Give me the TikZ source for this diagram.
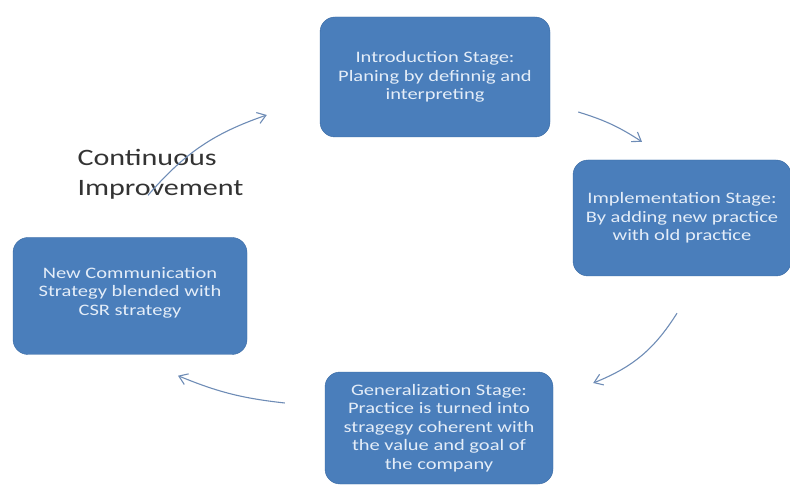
\documentclass[tikz,border=0pt]{standalone}
\usepackage{fontspec}
\setmainfont{Carlito}
\newfontfamily\stagefont[FakeStretch=1.28]{Carlito}
\usetikzlibrary{arrows.meta, positioning}

\definecolor{stageblue}{HTML}{4A7EBB}
\definecolor{stageedge}{HTML}{3A6AA3}
\definecolor{stagetext}{HTML}{E4EDF8}
\definecolor{loopline}{RGB}{110,140,182}

\begin{document}
\begin{tikzpicture}[
    x=1pt, y=-1pt,
    stage/.style={draw=stageedge, fill=stageblue, rounded corners=15pt,
                  align=center, text=stagetext,
                  font=\stagefont\fontsize{16}{18.5}\selectfont},
    cycleline/.style={->, draw=loopline, line width=1.1pt},
    >={Straight Barb[angle=70:10pt]}
  ]
  \useasboundingbox (0,0) rectangle (790,486);

  % Stages
  \node[stage, minimum width=230pt, minimum height=120pt] (intro) at (435,77)
    {Introduction Stage:\\Planing by definnig and\\interpreting};
  \node[stage, minimum width=218pt, minimum height=116pt] (impl) at (682,218)
    {Implementation Stage:\\By adding new practice\\with old practice};
  \node[stage, minimum width=228pt, minimum height=112pt] (general) at (439,428)
    {Generalization Stage:\\Practice is turned into\\stragegy coherent with\\the value and goal of\\the company};
  \node[stage, minimum width=234pt, minimum height=117pt] (newcomm) at (130,296)
    {New Communication\\Strategy blended with\\CSR strategy\\[-8.5pt]};

  % Label
  \node[align=left, anchor=west, text=black!80,
        font=\stagefont\fontsize{23.5}{30}\selectfont] (improve) at (74,174)
    {Continuous\\Improvement};

  % Arrow ends
  \coordinate (introout) at ([shift={(28,35)}]intro.east);
  \coordinate (implin) at ([shift={(-40,-18)}]impl.north);
  \coordinate (implout) at ([shift={(-5,37)}]impl.south);
  \coordinate (generalin) at ([shift={(40,-45)}]general.east);
  \coordinate (generalout) at ([shift={(-40,-25)}]general.west);
  \coordinate (newcommin) at ([shift={(48,21)}]newcomm.south);
  \coordinate (newcommout) at ([shift={(18,-42)}]newcomm.north);
  \coordinate (introin) at ([shift={(-53,38)}]intro.west);

  % Cycle arrows
  \draw[cycleline] (introout) to[bend left=8] (implin);
  \draw[cycleline] (implout) to[bend left=18] (generalin);
  \draw[cycleline] (generalout) to[bend left=8] (newcommin);
  \draw[cycleline] (newcommout) to[bend left=15] (introin);

\end{tikzpicture}
\end{document}
